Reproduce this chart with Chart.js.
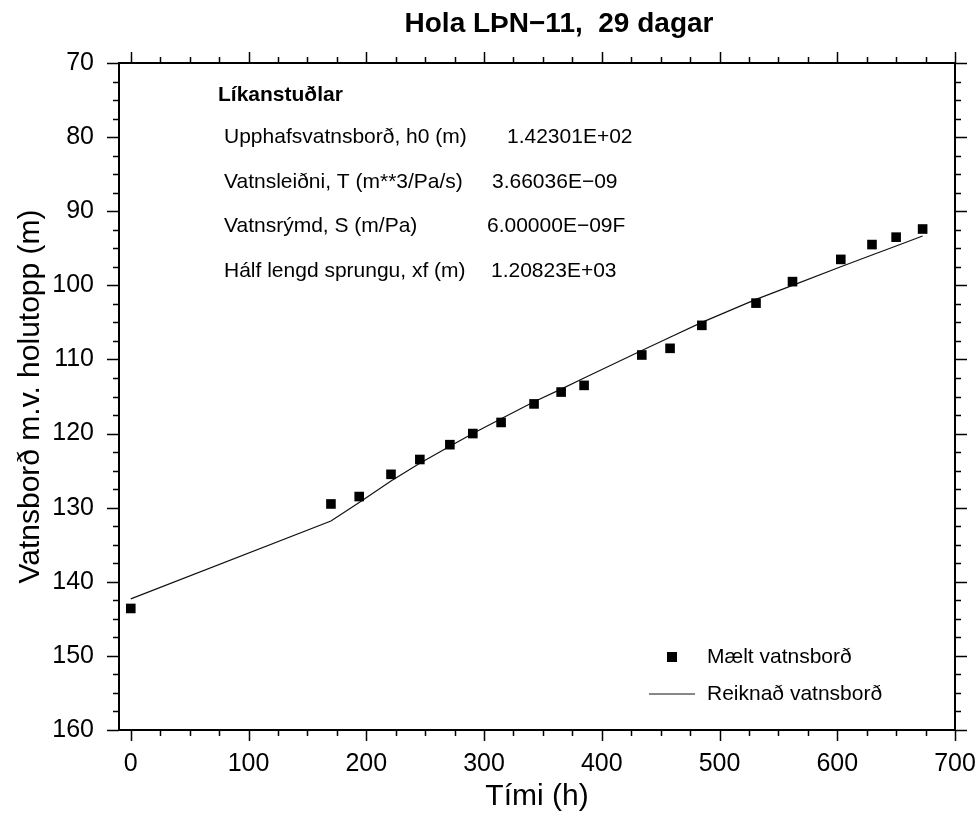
<!DOCTYPE html>
<html>
<head>
<meta charset="utf-8">
<title>Hola LÞN-11, 29 dagar</title>
<script src="https://cdn.jsdelivr.net/npm/chart.js@4.4.1/dist/chart.umd.min.js"></script>
<style>
	html, body { margin: 0; padding: 0; background: #fff; }
	#wrap { width: 980px; height: 819px; position: relative; }
</style>
</head>
<body>
<div id="wrap"><canvas id="chart"></canvas></div>
<script>
// Measured water level (Mælt vatnsborð), time in hours, depth in m below well top.
var timeMeasured  = [ 0, 170, 194, 221, 245.5, 271, 290.5, 314.5, 342.5, 365.5, 385, 434, 458, 485, 531, 562, 603, 629.5, 650, 672.5 ];
var levelMeasured = [ 143.6, 129.5, 128.5, 125.5, 123.5, 121.5, 120.0, 118.5, 116.0, 114.4, 113.5, 109.4, 108.5, 105.4, 102.4, 99.5, 96.5, 94.5, 93.5, 92.4 ];

// Model curve (Reiknað vatnsborð).
var timeModel  = [ 0, 170, 194, 221, 245.5, 271, 290.5, 314.5, 342.5, 365.5, 385, 434, 458, 485, 531, 562, 603, 629.5, 650, 672.5 ];
var levelModel = [ 142.3, 131.8, 129.3, 126.4, 124.0, 121.7, 120.0, 118.0, 115.7, 114.0, 112.5, 108.8, 107.0, 105.0, 101.9, 100.0, 97.5, 95.9, 94.7, 93.35 ];

var xTicks = [ 0, 100, 200, 300, 400, 500, 600, 700 ];
var yTicks = [ 70, 80, 90, 100, 110, 120, 130, 140, 150, 160 ];

var paramTitle  = 'Líkanstuðlar';
var paramLabels = [ 'Upphafsvatnsborð, h0 (m)', 'Vatnsleiðni, T (m**3/Pa/s)', 'Vatnsrýmd, S (m/Pa)', 'Hálf lengd sprungu, xf (m)' ];
var paramValues = [ '1.42301E+02', '3.66036E\u221209', '6.00000E\u221209F', '1.20823E+03' ];

var chartTitle   = 'Hola LÞN\u221211,  29 dagar';
var legendLabels = [ 'Mælt vatnsborð', 'Reiknað vatnsborð' ];

( function () {
	'use strict';

	var FONT = "'Liberation Sans', Arial, Helvetica, sans-serif";

	function pairs( xs, ys ) {
		return xs.map( function ( x, i ) {
			return { x: x, y: ys[ i ] };
		} );
	}

	// Box round the plot, with major and minor ticks pointing outwards on all sides.
	var framePlugin = {
		id: 'frame',
		afterDraw: function ( chart ) {
			var ctx = chart.ctx;
			var a   = chart.chartArea;
			var xs  = chart.scales.x;
			var ys  = chart.scales.y;
			var v, p, len;

			ctx.save();
			ctx.strokeStyle = '#000';
			ctx.lineWidth = 1.5;
			ctx.beginPath();
			for ( v = 0; v <= 700; v += 25 ) {
				p   = Math.round( xs.getPixelForValue( v ) ) + 0.5;
				len = v % 100 === 0 ? 11 : 6;
				ctx.moveTo( p, a.bottom );
				ctx.lineTo( p, a.bottom + len );
				ctx.moveTo( p, a.top );
				ctx.lineTo( p, a.top - len );
			}
			for ( v = 70; v <= 160; v += 2.5 ) {
				p   = Math.round( ys.getPixelForValue( v ) ) + 0.5;
				len = v % 10 === 0 ? 12 : 6;
				ctx.moveTo( a.left, p );
				ctx.lineTo( a.left - len, p );
				ctx.moveTo( a.right, p );
				ctx.lineTo( a.right + len, p );
			}
			ctx.stroke();

			ctx.lineWidth = 2;
			ctx.strokeRect( a.left, a.top, a.right - a.left, a.bottom - a.top );
			ctx.restore();
		}
	};

	// Title, parameter block and legend.
	var textPlugin = {
		id: 'texts',
		afterDraw: function ( chart ) {
			var ctx = chart.ctx;
			var rowY   = [ 137, 182, 226, 271 ];
			var valueX = [ 507, 492, 487, 491 ];

			ctx.save();
			ctx.fillStyle = '#000';
			ctx.textBaseline = 'middle';

			ctx.textAlign = 'center';
			ctx.font = 'bold 28px ' + FONT;
			ctx.fillText( chartTitle, 559, 24 );

			ctx.textAlign = 'left';
			ctx.font = 'bold 21px ' + FONT;
			ctx.fillText( paramTitle, 218, 95 );

			ctx.font = '21px ' + FONT;
			paramLabels.forEach( function ( label, i ) {
				ctx.fillText( label, 224, rowY[ i ] );
				ctx.fillText( paramValues[ i ], valueX[ i ], rowY[ i ] );
			} );

			// Legend
			ctx.fillRect( 667, 652, 10, 10 );
			ctx.fillText( legendLabels[ 0 ], 707, 657 );
			ctx.strokeStyle = '#111';
			ctx.lineWidth = 1.2;
			ctx.beginPath();
			ctx.moveTo( 649, 694 );
			ctx.lineTo( 695, 694 );
			ctx.stroke();
			ctx.fillText( legendLabels[ 1 ], 707, 694 );
			ctx.restore();
		}
	};

	Chart.defaults.font.family = FONT;
	Chart.defaults.color = '#000';

	new Chart( document.getElementById( 'chart' ), {
		type: 'scatter',
		data: {
			datasets: [
				{
					label:           legendLabels[ 0 ],
					data:            pairs( timeMeasured, levelMeasured ),
					pointStyle:      'rect',
					pointRadius:     6.8,
					backgroundColor: '#000',
					borderWidth:     0,
				},
				{
					label:       legendLabels[ 1 ],
					data:        pairs( timeModel, levelModel ),
					showLine:    true,
					pointRadius: 0,
					borderColor: '#111',
					borderWidth: 1.2,
					tension:     0,
					fill:        false,
				},
			],
		},
		options: {
			responsive:          true,
			maintainAspectRatio: false,
			animation:           false,
			events:              [],
			layout: {
				padding: { top: 63, right: 25, bottom: 0, left: 0 },
			},
			plugins: {
				legend:  { display: false },
				tooltip: { enabled: false },
				title:   { display: false },
			},
			scales: {
				x: {
					type: 'linear',
					min:  -10,
					max:  700,
					grid:   { display: false, drawTicks: false },
					border: { display: false },
					ticks: {
						font:        { size: 25 },
						color:       '#000',
						padding:     19,
						maxRotation: 0,
						autoSkip:    false,
					},
					afterBuildTicks: function ( s ) {
						s.ticks = xTicks.map( function ( v ) { return { value: v }; } );
					},
					afterFit: function ( s ) {
						s.height = 89;
						s.paddingLeft = 0;
						s.paddingRight = 0;
					},
					title: {
						display: true,
						text:    'Tími (h)',
						font:    { size: 30 },
						color:   '#000',
						padding: { top: 0, bottom: 4 },
					},
				},
				y: {
					type:    'linear',
					min:     70,
					max:     160,
					reverse: true,
					grid:   { display: false, drawTicks: false },
					border: { display: false },
					ticks: {
						font:     { size: 25 },
						color:    '#000',
						padding:  25,
						autoSkip: false,
					},
					afterBuildTicks: function ( s ) {
						s.ticks = yTicks.map( function ( v ) { return { value: v }; } );
					},
					afterFit: function ( s ) {
						s.width = 119;
						s.paddingTop = 0;
						s.paddingBottom = 0;
					},
					title: {
						display: true,
						text:    'Vatnsborð m.v. holutopp (m)',
						font:    { size: 30 },
						color:   '#000',
						padding: { top: 13, bottom: 0 },
					},
				},
			},
		},
		plugins: [ framePlugin, textPlugin ],
	} );
} )();
</script>
</body>
</html>
